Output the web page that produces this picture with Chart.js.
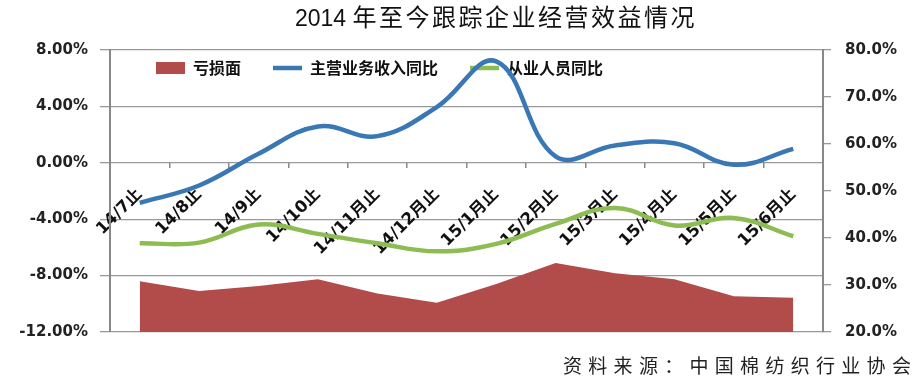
<!DOCTYPE html>
<html><head><meta charset="utf-8">
<script src="https://cdn.jsdelivr.net/npm/chart.js@4.4.1/dist/chart.umd.min.js"></script>
<style>
html,body{margin:0;padding:0;background:#fff;}
#wrap{position:relative;width:920px;height:386px;overflow:hidden;}
#title{position:absolute;left:295px;top:6px;font:23px/24px "Liberation Sans","Noto Sans CJK SC",sans-serif;color:#111;white-space:nowrap;}
#title .cjk{font-size:24px;letter-spacing:2.5px;}
#source{position:absolute;left:563px;top:355px;font:19px/19px "Noto Sans CJK SC",sans-serif;letter-spacing:6.3px;color:#222;white-space:nowrap;}
</style></head><body>
<div id="wrap"><canvas id="c" width="920" height="386"></canvas>
<div id="title"><span>2014 </span><span class="cjk">年至今跟踪企业经营效益情况</span></div>
<div id="source">资料来源：中国棉纺织行业协会</div></div>
<script>
const categories = ['14/7止','14/8止','14/9止','14/10止','14/11月止','14/12月止','15/1月止','15/2月止','15/3月止','15/4月止','15/5月止','15/6月止'];
const seriesNames = ['亏损面','主营业务收入同比','从业人员同比'];
const lossRatio = [30.8, 28.7, 29.8, 31.2, 28.2, 26.2, 30.2, 34.7, 32.5, 31.2, 27.6, 27.3];
const revenueYoY = [-2.84, -1.61, 0.64, 2.58, 1.89, 3.95, 7.19, 0.45, 1.23, 1.39, -0.14, 0.99];
const employeeYoY = [-5.71, -5.66, -4.38, -5.04, -5.71, -6.28, -5.75, -4.33, -3.20, -4.45, -3.91, -5.21];
const leftAxis = {min: -12, max: 8, step: 4};
const rightAxis = {min: 20, max: 80, step: 10};

const tickFont = {family: '"DejaVu Sans","Noto Sans CJK SC",sans-serif', size: 15, weight: 'bold'};
const catFont = {family: '"DejaVu Sans","Noto Sans CJK SC",sans-serif', size: 16.5, weight: 'bold'};

const legendMover = {
  id: 'legendMover',
  afterLayout(chart) {
    const lg = chart.legend;
    if (lg) {
      lg.left = 124; lg.top = 28; lg.right = 900; lg.bottom = 110;
      lg.width = lg.right - lg.left; lg.height = lg.bottom - lg.top;
    }
  }
};

new Chart(document.getElementById('c'), {
  type: 'line',
  data: {
    labels: categories,
    datasets: [
      {label: seriesNames[0], data: lossRatio, yAxisID: 'y1', fill: 'start', backgroundColor: '#b14c4b', borderColor: '#b14c4b', borderWidth: 0, tension: 0, pointRadius: 0, pointStyle: 'rect', order: 3},
      {label: seriesNames[1], data: revenueYoY, yAxisID: 'y', fill: false, borderColor: '#3a78b5', backgroundColor: '#3a78b5', borderWidth: 4.5, tension: 0.4, pointRadius: 0, pointStyle: 'line', order: 1},
      {label: seriesNames[2], data: employeeYoY, yAxisID: 'y', fill: false, borderColor: '#8dbc52', backgroundColor: '#8dbc52', borderWidth: 4.5, tension: 0.4, pointRadius: 0, pointStyle: 'line', order: 2}
    ]
  },
  options: {
    responsive: false,
    animation: false,
    devicePixelRatio: 1,
    layout: {padding: {top: 49, bottom: 54, left: 0, right: 0}},
    plugins: {
      title: {display: false},
      tooltip: {enabled: false},
      legend: {
        position: 'top', align: 'start', maxHeight: 1,
        labels: {
          usePointStyle: true, pointStyleWidth: 29, boxHeight: 12, padding: 32,
          font: {family: '"Noto Sans CJK SC",sans-serif', size: 16, weight: 'bold'}, color: '#111',
          sort: (a, b) => a.datasetIndex - b.datasetIndex
        }
      }
    },
    scales: {
      x: {
        type: 'category', offset: true, position: {y: 0},
        grid: {drawOnChartArea: false, drawTicks: true, tickLength: 5, offset: true, color: '#888', lineWidth: 1.5},
        border: {display: false},
        ticks: {autoSkip: false, minRotation: 45, maxRotation: 45, padding: 17, font: catFont, color: '#111'}
      },
      y: {
        position: 'left', min: leftAxis.min, max: leftAxis.max,
        afterFit(s) { s.width = 110; },
        ticks: {stepSize: leftAxis.step, padding: 12, font: tickFont, color: '#222', callback: v => v.toFixed(2) + '%'},
        grid: {color: '#999', lineWidth: 1.3, tickLength: 10},
        border: {color: '#888', width: 2}
      },
      y1: {
        position: 'right', min: rightAxis.min, max: rightAxis.max,
        afterFit(s) { s.width = 97; },
        ticks: {stepSize: rightAxis.step, padding: 14, font: tickFont, color: '#222', callback: v => v.toFixed(1) + '%'},
        grid: {drawOnChartArea: false, color: '#999', lineWidth: 1.3, tickLength: 8},
        border: {color: '#888', width: 2}
      }
    }
  },
  plugins: [legendMover]
});
</script>
</body></html>
